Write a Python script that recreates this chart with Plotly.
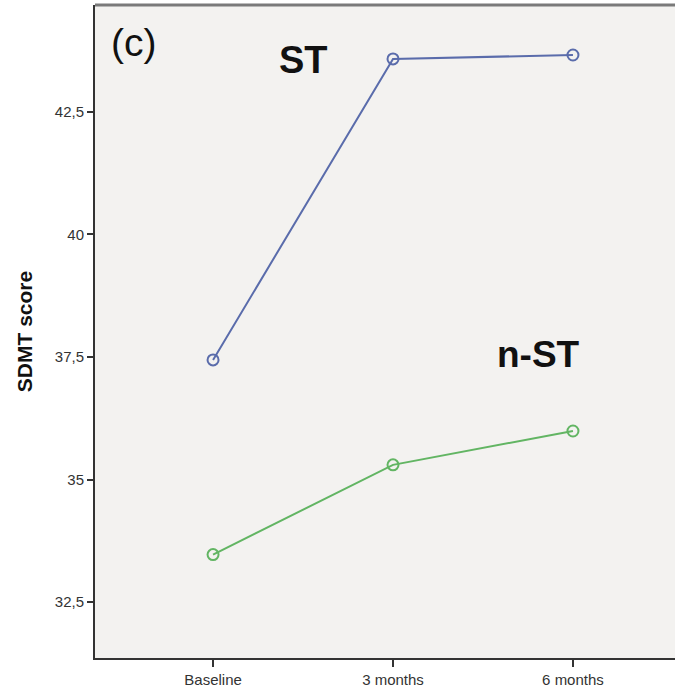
import plotly.graph_objects as go

timepoints = ["Baseline", "3 months", "6 months"]
st_scores = [37.44, 43.58, 43.66]
nst_scores = [33.47, 35.30, 35.99]
y_tickvals = [32.5, 35, 37.5, 40, 42.5]
y_ticktext = ["32,5", "35", "37,5", "40", "42,5"]

fig = go.Figure()
fig.add_trace(go.Scatter(
    x=timepoints, y=st_scores, mode="lines+markers", name="ST",
    line=dict(color="#5a6cab", width=2),
    marker=dict(symbol="circle-open", size=11, color="#5a6cab", line=dict(width=2)),
))
fig.add_trace(go.Scatter(
    x=timepoints, y=nst_scores, mode="lines+markers", name="n-ST",
    line=dict(color="#62b563", width=2),
    marker=dict(symbol="circle-open", size=11, color="#62b563", line=dict(width=2)),
))

fig.update_layout(
    width=675, height=690,
    margin=dict(l=95, r=0, t=5, b=32),
    paper_bgcolor="white",
    plot_bgcolor="#f3f2f0",
    showlegend=False,
    font=dict(family="Liberation Sans, Arial, sans-serif", color="#333333"),
)
fig.update_xaxes(
    type="category", range=[-0.656, 2.567],
    showgrid=False, zeroline=False,
    showline=True, linecolor="#333333", linewidth=2,
    ticks="outside", ticklen=7, tickwidth=2, tickcolor="#333333",
    tickfont=dict(size=15, color="#333333"),
)
fig.update_yaxes(
    range=[31.36, 44.68],
    tickvals=y_tickvals, ticktext=y_ticktext,
    showgrid=False, zeroline=False,
    showline=True, linecolor="#333333", linewidth=2,
    ticks="outside", ticklen=6, tickwidth=2, tickcolor="#333333",
    tickfont=dict(size=15, color="#333333"),
    title=dict(text="<b>SDMT score</b>", font=dict(size=21, color="#111111"), standoff=16),
)
# top border
fig.add_shape(type="line", xref="paper", yref="paper", x0=0, x1=1, y0=1, y1=1,
              line=dict(color="#7a7a7a", width=3))

fig.add_annotation(text="(c)", xref="paper", yref="paper", x=0.024, y=0.942,
                   xanchor="left", yanchor="middle", showarrow=False,
                   font=dict(size=39, color="#111111"))
fig.add_annotation(text="<b>ST</b>", xref="x", yref="y", x=0.5, y=43.56,
                   xanchor="center", yanchor="middle", showarrow=False,
                   font=dict(size=38, color="#111111"))
fig.add_annotation(text="<b>n-ST</b>", x=1.806, y=37.56, xref="x", yref="y",
                   xanchor="center", yanchor="middle", showarrow=False,
                   font=dict(size=37, color="#111111"))

fig.write_html("out.html")
